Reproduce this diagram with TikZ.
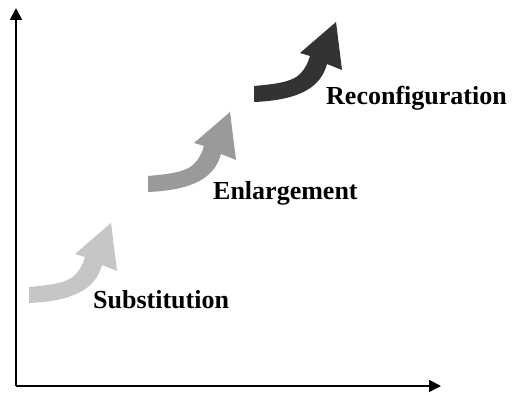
\documentclass[tikz,border=0pt]{standalone}
\usepackage{fontspec}
\setmainfont{Liberation Serif}
\usetikzlibrary{arrows.meta}
\definecolor{c1}{HTML}{C6C6C6}
\definecolor{c2}{HTML}{9A9A9A}
\definecolor{c3}{HTML}{333333}
\tikzset{
  axis/.style={line width=1.8pt,-{Triangle[length=12pt,width=12pt]}},
  lab/.style={anchor=base west,inner sep=0pt,font=\fontsize{26}{30}\selectfont\bfseries},
  arrcol/.initial=black,
  growth/.pic={
    \fill[\pgfkeysvalueof{/tikz/arrcol}]
      (0,8) -- (0,-8)
      .. controls (22,-10) and (38,-12) .. (46,-20)
      .. controls (51,-25) and (54,-31) .. (56,-38)
      -- (46,-41) -- (82,-72) -- (88,-24) -- (73,-30)
      .. controls (67,-8) and (48,6) .. (0,8) -- cycle;
  }
}
\begin{document}
\begin{tikzpicture}[x=1pt,y=-1pt]
\useasboundingbox (0,0) rectangle (520,395);
\coordinate (O) at (16,386);
\coordinate (Y) at (16,8);
\coordinate (X) at (441,386);
\draw[axis] (O) -- (Y);
\draw[axis] (O) -- (X);
\pic[arrcol=c1] at (29,295) {growth};
\pic[arrcol=c2] at (148,184) {growth};
\pic[arrcol=c3] at (254,94) {growth};
\node[lab] (sub) at (93,309) {Substitution};
\node[lab] (enl) at (213,200) {Enlargement};
\node[lab] (rec) at (326,105) {Reconfiguration};
\end{tikzpicture}
\end{document}
